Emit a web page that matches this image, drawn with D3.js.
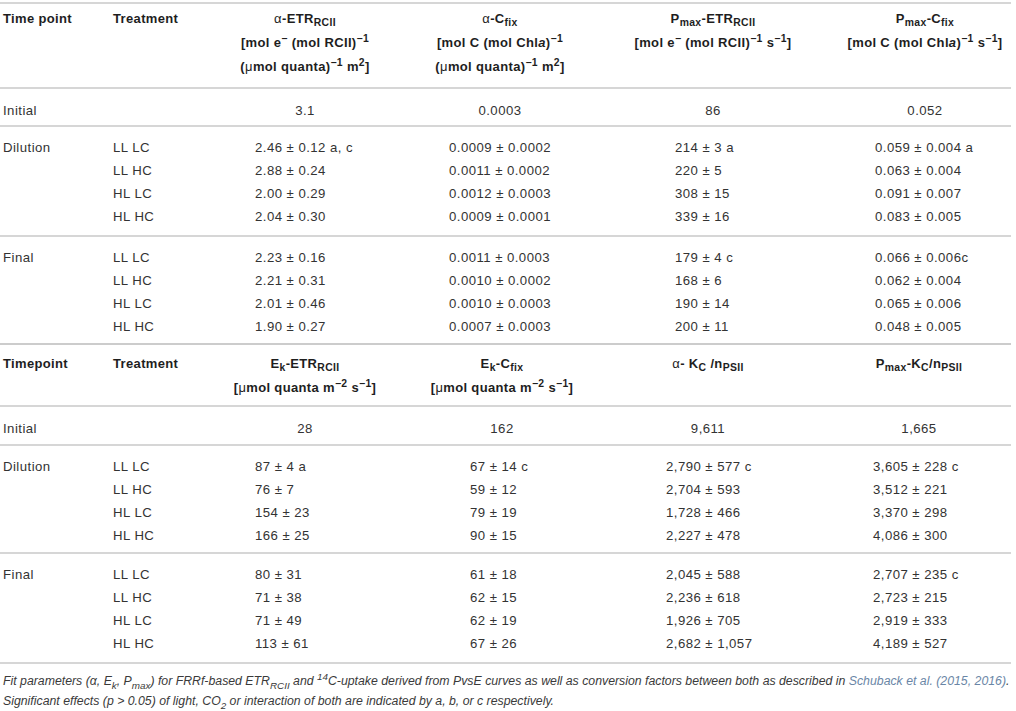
<!DOCTYPE html>
<html>
<head>
<meta charset="utf-8">
<script src="https://cdn.jsdelivr.net/npm/d3@7"></script>
<style>
    body { margin: 0; background: #fff; }
    text { font-family: "Liberation Sans", Arial, sans-serif; }
</style>
</head>
<body>
<script>
const timePoints = ["Initial", "Dilution", "Final"];
const treatments = ["LL LC", "LL HC", "HL LC", "HL HC"];

// each column: initial, 4 x dilution, 4 x final
const alphaEtr = ["3.1", "2.46 ± 0.12 a, c", "2.88 ± 0.24", "2.00 ± 0.29", "2.04 ± 0.30",
    "2.23 ± 0.16", "2.21 ± 0.31", "2.01 ± 0.46", "1.90 ± 0.27"];
const alphaCfix = ["0.0003", "0.0009 ± 0.0002", "0.0011 ± 0.0002", "0.0012 ± 0.0003", "0.0009 ± 0.0001",
    "0.0011 ± 0.0003", "0.0010 ± 0.0002", "0.0010 ± 0.0003", "0.0007 ± 0.0003"];
const pmaxEtr = ["86", "214 ± 3 a", "220 ± 5", "308 ± 15", "339 ± 16",
    "179 ± 4 c", "168 ± 6", "190 ± 14", "200 ± 11"];
const pmaxCfix = ["0.052", "0.059 ± 0.004 a", "0.063 ± 0.004", "0.091 ± 0.007", "0.083 ± 0.005",
    "0.066 ± 0.006c", "0.062 ± 0.004", "0.065 ± 0.006", "0.048 ± 0.005"];

const ekEtr = ["28", "87 ± 4 a", "76 ± 7", "154 ± 23", "166 ± 25",
    "80 ± 31", "71 ± 38", "71 ± 49", "113 ± 61"];
const ekCfix = ["162", "67 ± 14 c", "59 ± 12", "79 ± 19", "90 ± 15",
    "61 ± 18", "62 ± 15", "62 ± 19", "67 ± 26"];
const alphaKc = ["9,611", "2,790 ± 577 c", "2,704 ± 593", "1,728 ± 466", "2,227 ± 478",
    "2,045 ± 588", "2,236 ± 618", "1,926 ± 705", "2,682 ± 1,057"];
const pmaxKc = ["1,665", "3,605 ± 228 c", "3,512 ± 221", "3,370 ± 298", "4,086 ± 300",
    "2,707 ± 235 c", "2,723 ± 215", "2,919 ± 333", "4,189 ± 527"];

// header markup: _{sub} ^{sup} ~{italic} !{normal weight} #{link}
const upperHeaders = [
    ["Time point"],
    ["Treatment"],
    ["!{α}-ETR_{RCII}", "[mol e^{−} (mol RCII)^{−1}", "(!{μ}mol quanta)^{−1} m^{2}]"],
    ["!{α}-C_{fix}", "[mol C (mol Chl~{a})^{−1}", "(!{μ}mol quanta)^{−1} m^{2}]"],
    ["P_{max}-ETR_{RCII}", "[mol e^{−} (mol RCII)^{−1} s^{−1}]"],
    ["P_{max}-C_{fix}", "[mol C (mol Chl~{a})^{−1} s^{−1}]"]
];
const lowerHeaders = [
    ["Timepoint"],
    ["Treatment"],
    ["E_{k}-ETR_{RCII}", "[!{μ}mol quanta m^{−2} s^{−1}]"],
    ["E_{k}-C_{fix}", "[!{μ}mol quanta m^{−2} s^{−1}]"],
    ["!{α}- K_{C} /n_{PSII}"],
    ["P_{max}-K_{C}/n_{PSII}"]
];
const footnote = [
    "Fit parameters (α, E_{k}, P_{max}) for FRRf-based ETR_{RCII} and ^{14}C-uptake derived from PvsE curves as well as conversion factors between both as described in #{Schuback et al. (2015, 2016)}.",
    "Significant effects (p > 0.05) of light, CO_{2} or interaction of both are indicated by a, b, or c respectively."
];

// ---- layout ----
const width = 1016;
const height = 711;
const lineColor = "#c9c9c9";
const headColor = "#1e1e1e";
const cellColor = "#333";
const rowStep = 23;
const headSize = 13;
const cellSize = 13.2;

const svg = d3.select("body")
    .append("svg")
    .attr("width", width)
    .attr("height", height);

const rich = (sel, str, size) => {
    const parts = str.split(/([_^~!#]\{[^}]*\})/).filter(s => s.length);
    let shift = 0;
    parts.forEach(p => {
        let kind = "";
        let t = p;
        if (/^[_^~!#]\{/.test(p)) {
            kind = p[0];
            t = p.slice(2, -1);
        }
        const target = kind === "_" ? size * 0.3 : kind === "^" ? -size * 0.38 : 0;
        const ts = sel.append("tspan").text(t).attr("dy", target - shift);
        shift = target;
        if (kind === "_" || kind === "^") ts.attr("font-size", size * 0.8);
        if (kind === "~") ts.attr("font-style", "italic");
        if (kind === "!") ts.attr("font-weight", "normal");
        if (kind === "#") ts.attr("fill", "#6a86a6");
    });
};

const drawTable = (cfg) => {
    const g = svg.append("g");
    const colX = d3.scaleOrdinal().domain(d3.range(6)).range(cfg.centers);
    const colLeft = d3.scaleOrdinal().domain(d3.range(2, 6)).range(cfg.lefts);

    // horizontal rules
    g.selectAll("line")
        .data(cfg.lines)
        .join("line")
        .attr("x1", 0)
        .attr("x2", 1011)
        .attr("y1", d => d)
        .attr("y2", d => d)
        .attr("stroke", lineColor)
        .attr("stroke-width", 1.6);

    // header
    const headY = d3.scaleLinear().domain([0, 1]).range([cfg.headTop, cfg.headTop + 24]);
    cfg.headers.forEach((lines, ci) => {
        lines.forEach((ln, li) => {
            const t = g.append("text")
                .attr("x", colX(ci))
                .attr("y", headY(li) + 4.5)
                .attr("text-anchor", ci < 2 ? "start" : "middle")
                .attr("font-size", headSize)
                .attr("font-weight", "bold")
                .attr("letter-spacing", 0.35)
                .attr("fill", headColor);
            rich(t, ln, headSize);
        });
    });

    // body rows
    const rows = [];
    rows.push({ y: cfg.lines[1] + 22, tp: timePoints[0], tr: "", idx: 0, initial: true });
    [1, 2].forEach(b => {
        const y = d3.scaleLinear().domain([0, 3]).range([cfg.lines[b + 1] + 21, cfg.lines[b + 1] + 21 + rowStep * 3]);
        treatments.forEach((tr, i) => {
            rows.push({ y: y(i), tp: i === 0 ? timePoints[b] : "", tr: tr, idx: 1 + (b - 1) * 4 + i, initial: false });
        });
    });

    const rowG = g.selectAll("g.row")
        .data(rows)
        .join("g")
        .attr("class", "row")
        .attr("transform", d => `translate(0,${d.y + 4.5})`);

    const cell = (x) => rowG.append("text")
        .attr("x", x)
        .attr("font-size", cellSize)
        .attr("letter-spacing", 0.45)
        .attr("fill", cellColor);

    cell(colX(0)).text(d => d.tp);
    cell(colX(1)).text(d => d.tr);

    cfg.columns.forEach((col, ci) => {
        cell(d => d.initial ? colX(ci + 2) : colLeft(ci + 2))
            .attr("text-anchor", d => d.initial ? "middle" : "start")
            .text(d => col[d.idx]);
    });
};

drawTable({
    headers: upperHeaders,
    columns: [alphaEtr, alphaCfix, pmaxEtr, pmaxCfix],
    centers: [3, 113, 305, 500, 713, 925],
    lefts: [255, 449, 675, 875],
    lines: [3, 88, 126, 236, 344],
    headTop: 18
});

drawTable({
    headers: lowerHeaders,
    columns: [ekEtr, ekCfix, alphaKc, pmaxKc],
    centers: [3, 113, 305, 502, 708, 919],
    lefts: [255, 470, 666, 873],
    lines: [344, 406, 445, 553, 663],
    headTop: 363
});

// caption
const foot = svg.append("g");
footnote.forEach((ln, i) => {
    const t = foot.append("text")
        .attr("x", 3)
        .attr("y", 685 + i * 20)
        .attr("font-size", 12.3)
        .attr("font-style", "italic")
        .attr("fill", "#3a3a3a");
    rich(t, ln, 12.3);
});
</script>
</body>
</html>
